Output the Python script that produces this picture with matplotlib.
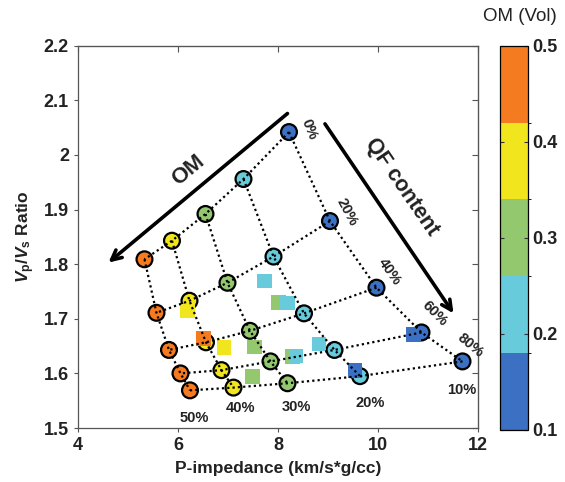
import numpy as np
import matplotlib
matplotlib.use("Agg")
import matplotlib.pyplot as plt
from matplotlib.colors import ListedColormap, BoundaryNorm

plt.rcParams['font.family'] = ['Liberation Sans', 'DejaVu Sans']
plt.rcParams['mathtext.fontset'] = 'custom'
plt.rcParams['mathtext.it'] = 'Liberation Sans:italic:bold'
plt.rcParams['mathtext.rm'] = 'Liberation Sans:bold'
plt.rcParams['mathtext.bf'] = 'Liberation Sans:bold'

# ---- data ----
om_levels = [0.1, 0.2, 0.3, 0.4, 0.5]
om_labels = ['10%', '20%', '30%', '40%', '50%']
qf_labels = ['0%', '20%', '40%', '60%', '80%']

# rows: OM level, columns: QF content
grid_om10_x = [8.22, 9.04, 9.97, 10.87, 11.69]
grid_om10_y = [2.042, 1.879, 1.757, 1.675, 1.622]
grid_om20_x = [7.31, 7.91, 8.52, 9.13, 9.64]
grid_om20_y = [1.956, 1.814, 1.710, 1.643, 1.595]
grid_om30_x = [6.55, 6.99, 7.44, 7.85, 8.19]
grid_om30_y = [1.892, 1.766, 1.678, 1.622, 1.582]
grid_om40_x = [5.88, 6.23, 6.56, 6.87, 7.11]
grid_om40_y = [1.843, 1.733, 1.657, 1.606, 1.574]
grid_om50_x = [5.33, 5.57, 5.82, 6.05, 6.24]
grid_om50_y = [1.809, 1.711, 1.643, 1.600, 1.569]

# measured samples
sample_x = [7.73, 8.01, 8.19, 6.19, 6.51, 6.92, 7.53, 7.49, 8.82, 8.29, 8.36, 9.54, 10.71]
sample_y = [1.769, 1.730, 1.729, 1.714, 1.664, 1.647, 1.648, 1.594, 1.654, 1.631, 1.632, 1.605, 1.671]
sample_om = [0.2, 0.3, 0.2, 0.4, 0.5, 0.4, 0.3, 0.3, 0.2, 0.3, 0.2, 0.1, 0.1]

cb_colors = ['#3B70C2', '#68CBDB', '#93C86E', '#F1E51D', '#F47B20']
cb_bounds = [0.1, 0.18, 0.26, 0.34, 0.42, 0.5]
cb_ticks = [0.1, 0.2, 0.3, 0.4, 0.5]

xticks = [4, 6, 8, 10, 12]
yticks = [1.5, 1.6, 1.7, 1.8, 1.9, 2.0, 2.1, 2.2]
ytick_labels = ['1.5', '1.6', '1.7', '1.8', '1.9', '2', '2.1', '2.2']

# ---- figure ----
fig = plt.figure(figsize=(5.65, 4.82), dpi=100)
ax = fig.add_axes([0.138, 0.112, 0.708, 0.793])
cax = fig.add_axes([0.885, 0.108, 0.049, 0.797])

cmap = ListedColormap(cb_colors)
norm = BoundaryNorm(cb_bounds, cmap.N)

GX = np.array([grid_om10_x, grid_om20_x, grid_om30_x, grid_om40_x, grid_om50_x])
GY = np.array([grid_om10_y, grid_om20_y, grid_om30_y, grid_om40_y, grid_om50_y])

# circles
for i, om in enumerate(om_levels):
    ax.scatter(GX[i], GY[i], c=[om] * len(GX[i]), cmap=cmap, norm=norm, s=130,
               edgecolors='black', linewidths=1.6, zorder=3)

# samples (squares)
ax.scatter(sample_x, sample_y, c=sample_om, cmap=cmap, norm=norm, marker='s',
           s=110, edgecolors='none', zorder=4)

# dotted grid lines
for i in range(GX.shape[0]):
    ax.plot(GX[i], GY[i], ls=(0, (1, 1.4)), color='black', lw=1.6, zorder=5)
for j in range(GX.shape[1]):
    ax.plot(GX[:, j], GY[:, j], ls=(0, (1, 1.4)), color='black', lw=1.6, zorder=5)

# QF labels (along OM 10% line)
qf_lab_x = [8.62, 9.37, 10.24, 11.14, 11.84]
qf_lab_y = [2.047, 1.896, 1.786, 1.709, 1.652]
qf_rot = [-68, -62, -55, -45, -40]
for lab, xx, yy, r in zip(qf_labels, qf_lab_x, qf_lab_y, qf_rot):
    ax.text(xx, yy, lab, rotation=r, ha='center', va='center', fontsize=10.5,
            fontweight='bold', color='#222222')

# OM labels (bottom)
om_lab_x = [11.67, 9.85, 8.36, 7.25, 6.32]
om_lab_y = [1.569, 1.546, 1.539, 1.536, 1.519]
for lab, xx, yy in zip(om_labels, om_lab_x, om_lab_y):
    ax.text(xx, yy, lab, ha='center', va='center', fontsize=10.5,
            fontweight='bold', color='#222222')

# arrows
ax.annotate('', xy=(4.61, 1.803), xytext=(8.19, 2.076),
            arrowprops=dict(arrowstyle='->,head_length=0.7,head_width=0.35',
                            lw=2.6, color='black', shrinkA=0, shrinkB=0))
ax.annotate('', xy=(11.51, 1.71), xytext=(8.94, 2.057),
            arrowprops=dict(arrowstyle='->,head_length=0.7,head_width=0.35',
                            lw=2.6, color='black', shrinkA=0, shrinkB=0))
ax.text(6.2, 1.972, 'OM', rotation=40, ha='center', va='center',
        fontsize=16, fontweight='bold', color='#222222')
ax.text(10.48, 1.941, 'QF content', rotation=-55.5, ha='center', va='center',
        fontsize=15.5, fontweight='bold', color='#222222')

ax.set_xlim(4, 12)
ax.set_ylim(1.5, 2.2)
ax.set_xticks(xticks)
ax.set_xticklabels([str(t) for t in xticks])
ax.set_yticks(yticks)
ax.set_yticklabels(ytick_labels)
ax.tick_params(axis='both', labelsize=13, direction='out', length=3, width=0.8,
               colors='#555555', labelcolor='#222222')
for lbl in ax.get_xticklabels() + ax.get_yticklabels():
    lbl.set_fontweight('bold')
for sp in ax.spines.values():
    sp.set_color('#555555')
    sp.set_linewidth(0.9)

# mirrored inward ticks on top and right
sec_r = ax.secondary_yaxis('right')
sec_r.set_yticks(yticks)
sec_r.tick_params(direction='in', length=4, width=0.8, colors='#555555', labelright=False)
sec_r.spines['right'].set_color('#555555')
sec_t = ax.secondary_xaxis('top')
sec_t.set_xticks(xticks)
sec_t.tick_params(direction='in', length=4, width=0.8, colors='#555555', labeltop=False)
sec_t.spines['top'].set_color('#555555')

ax.set_xlabel('P-impedance (km/s*g/cc)', fontsize=12.5, fontweight='bold',
              color='#222222', labelpad=5)
ax.set_ylabel(r'$V_{\mathrm{p}}$/$V_{\mathrm{s}}$ Ratio', fontsize=12.5,
              fontweight='bold', color='#222222', labelpad=5)

# colorbar
sm = plt.cm.ScalarMappable(cmap=cmap, norm=norm)
cb = fig.colorbar(sm, cax=cax, ticks=cb_ticks, boundaries=cb_bounds)
cb.set_ticklabels([str(t) for t in cb_ticks])
cb.ax.tick_params(labelsize=13, direction='in', length=3, colors='#333333',
                  labelcolor='#222222', left=True, right=True)
for lbl in cb.ax.get_yticklabels():
    lbl.set_fontweight('bold')
cb.outline.set_linewidth(0.9)
fig.text(0.92, 0.965, 'OM (Vol)', fontsize=13.5, color='#222222',
         ha='center', va='center')

fig.savefig('out.png', dpi=100)
